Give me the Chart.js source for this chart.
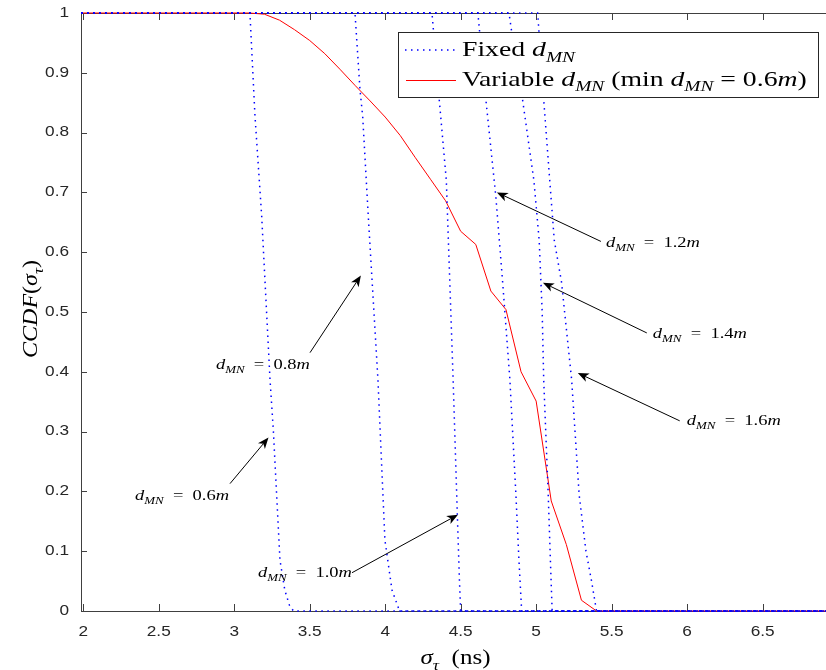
<!DOCTYPE html>
<html>
<head>
<meta charset="utf-8">
<script src="https://cdn.jsdelivr.net/npm/chart.js@4.4.0/dist/chart.umd.min.js"></script>
<style>
  html, body { margin: 0; padding: 0; background: #fff; }
</style>
</head>
<body>
<canvas id="ccdf" width="826" height="670"></canvas>
<script>
/* ── Data ── */
const X_MIN = 1.985, X_MAX = 6.92;
const X_TICKS = [2, 2.5, 3, 3.5, 4, 4.5, 5, 5.5, 6, 6.5];
const Y_TICKS = [0, 0.1, 0.2, 0.3, 0.4, 0.5, 0.6, 0.7, 0.8, 0.9, 1];

// variable d_MN (min 0.6m)
const VAR_X = [1.985, 3.1, 3.2, 3.3, 3.4, 3.5, 3.6, 3.7, 3.8, 3.9, 4.0, 4.1, 4.2, 4.3, 4.4, 4.5, 4.6, 4.7, 4.8, 4.9, 5.0, 5.1, 5.2, 5.3, 5.4, 6.92];
const VAR_Y = [1, 1, 0.998, 0.988, 0.972, 0.954, 0.932, 0.906, 0.879, 0.853, 0.826, 0.795, 0.758, 0.722, 0.686, 0.635, 0.613, 0.535, 0.504, 0.400, 0.351, 0.184, 0.111, 0.018, 0, 0];

// fixed d_MN curves
const FIX_06_X = [3.104, 3.137, 3.182, 3.237, 3.259, 3.303, 3.335, 3.365, 3.392];
const FIX_06_Y = [1, 0.830, 0.660, 0.387, 0.303, 0.085, 0.035, 0.010, 0];
const FIX_08_X = [3.800, 3.833, 3.851, 3.888, 3.952, 3.998, 4.045, 4.095];
const FIX_08_Y = [1, 0.872, 0.827, 0.660, 0.387, 0.119, 0.035, 0];
const FIX_10_X = [4.310, 4.358, 4.405, 4.450, 4.478, 4.492, 4.500];
const FIX_10_Y = [1, 0.855, 0.720, 0.387, 0.160, 0.050, 0];
const FIX_12_X = [4.614, 4.667, 4.733, 4.778, 4.826, 4.866, 4.886, 4.904];
const FIX_12_Y = [1, 0.855, 0.693, 0.550, 0.387, 0.194, 0.085, 0];
const FIX_14_X = [4.820, 4.860, 4.910, 4.985, 5.020, 5.040, 5.050, 5.080, 5.095, 5.106];
const FIX_14_Y = [1, 0.930, 0.855, 0.720, 0.620, 0.500, 0.387, 0.194, 0.080, 0];
const FIX_16_X = [5.010, 5.050, 5.090, 5.120, 5.168, 5.235, 5.285, 5.330, 5.367, 5.400];
const FIX_16_Y = [1, 0.855, 0.720, 0.620, 0.550, 0.387, 0.194, 0.100, 0.050, 0];

const FIXED = [
  [FIX_06_X, FIX_06_Y], [FIX_08_X, FIX_08_Y], [FIX_10_X, FIX_10_Y],
  [FIX_12_X, FIX_12_Y], [FIX_14_X, FIX_14_Y], [FIX_16_X, FIX_16_Y]
];

// annotation labels: d_MN value, text anchor (left/baseline), arrow tail, arrow head (data units)
const ANN_LABEL = ['0.6', '0.8', '1.0', '1.2', '1.4', '1.6'];
const ANN_TEXT = [[2.343, 0.186], [2.879, 0.405], [3.157, 0.057], [5.462, 0.608], [5.773, 0.457], [5.998, 0.311]];
const ANN_TAIL = [[2.972, 0.213], [3.502, 0.432], [3.780, 0.064], [5.429, 0.618], [5.733, 0.465], [5.951, 0.318]];
const ANN_HEAD = [[3.227, 0.290], [3.839, 0.561], [4.482, 0.161], [4.740, 0.700], [5.045, 0.549], [5.276, 0.398]];

/* ── Text helpers ── */
const SERIF = '"Liberation Serif", "Times New Roman", serif';
const SANS = '"Liberation Sans", Arial, sans-serif';
const BLUE = '#0000ff', RED = '#ff0000', AXIS = '#404040';

function fontFor(kind, size) {
  if (kind === 'r') return size + 'px ' + SERIF;
  if (kind === 'i') return 'italic ' + size + 'px ' + SERIF;
  return 'italic ' + (size * 0.7).toFixed(1) + 'px ' + SERIF;
}
function richWidth(ctx, parts, size) {
  let w = 0;
  for (const [t, k] of parts) { ctx.font = fontFor(k, size); w += ctx.measureText(t).width; }
  return w;
}
// draws mixed roman / italic / subscript text, stretched horizontally by sx
function drawRich(ctx, parts, x, y, size, sx, align) {
  const w = richWidth(ctx, parts, size) * sx;
  ctx.save();
  ctx.translate(align === 'center' ? x - w / 2 : x, y);
  ctx.scale(sx, 1);
  ctx.textAlign = 'left'; ctx.textBaseline = 'alphabetic';
  let cx = 0;
  for (const [t, k] of parts) {
    ctx.font = fontFor(k, size);
    ctx.fillText(t, cx, k === 's' ? size * 0.28 : 0);
    cx += ctx.measureText(t).width;
  }
  ctx.restore();
  return w;
}
function drawSans(ctx, txt, x, y, size, sx, align) {
  ctx.save();
  ctx.font = size + 'px ' + SANS;
  const w = ctx.measureText(txt).width * sx;
  let x0 = x;
  if (align === 'center') x0 = x - w / 2;
  else if (align === 'right') x0 = x - w;
  ctx.translate(x0, y); ctx.scale(sx, 1);
  ctx.textAlign = 'left'; ctx.textBaseline = 'middle';
  ctx.fillText(txt, 0, 0);
  ctx.restore();
}
function arrow(ctx, x1, y1, x2, y2) {
  const a = Math.atan2(y2 - y1, x2 - x1);
  const L = 11, W = 4.5, B = 8;
  ctx.beginPath();
  ctx.moveTo(x1, y1);
  ctx.lineTo(x2 - Math.cos(a) * B, y2 - Math.sin(a) * B);
  ctx.stroke();
  ctx.save();
  ctx.translate(x2, y2); ctx.rotate(a);
  ctx.beginPath();
  ctx.moveTo(0, 0); ctx.lineTo(-L, -W); ctx.lineTo(-B, 0); ctx.lineTo(-L, W);
  ctx.closePath(); ctx.fill();
  ctx.restore();
}

const DMN = [['d', 'i'], ['MN', 's']];

/* ── Axes box, ticks, labels (MATLAB style, inward ticks) ── */
const axesPlugin = {
  id: 'matlabAxes',
  beforeDatasetsDraw(chart) {
    const { ctx, chartArea: ca, scales: { x, y } } = chart;
    ctx.save();
    ctx.strokeStyle = AXIS; ctx.lineWidth = 1;
    ctx.beginPath();
    ctx.moveTo(ca.left + 0.5, ca.top); ctx.lineTo(ca.left + 0.5, ca.bottom);
    ctx.moveTo(ca.left, ca.bottom + 0.5); ctx.lineTo(ca.right, ca.bottom + 0.5);
    ctx.moveTo(ca.left, ca.top + 0.5); ctx.lineTo(ca.right, ca.top + 0.5);
    for (const t of x.ticks) {
      const px = Math.round(x.getPixelForValue(t.value)) + 0.5;
      ctx.moveTo(px, ca.bottom); ctx.lineTo(px, ca.bottom - 7);
      ctx.moveTo(px, ca.top); ctx.lineTo(px, ca.top + 7);
    }
    for (const t of y.ticks) {
      const py = Math.round(y.getPixelForValue(t.value)) + 0.5;
      ctx.moveTo(ca.left, py); ctx.lineTo(ca.left + 6, py);
    }
    ctx.stroke();

    ctx.fillStyle = '#262626';
    for (const t of x.ticks) drawSans(ctx, String(t.value), x.getPixelForValue(t.value), ca.bottom + 21, 14, 1.23, 'center');
    for (const t of y.ticks) drawSans(ctx, String(t.value), ca.left - 12, y.getPixelForValue(t.value), 14, 1.23, 'right');

    ctx.fillStyle = '#000';
    drawRich(ctx, [['σ', 'i'], ['τ', 's'], ['  (ns)', 'r']], (ca.left + ca.right) / 2 + 2, ca.bottom + 53, 20, 1.25, 'center');
    ctx.save();
    ctx.translate(37, (ca.top + ca.bottom) / 2 - 3);
    ctx.rotate(-Math.PI / 2);
    drawRich(ctx, [['CCDF', 'i'], ['(', 'r'], ['σ', 'i'], ['τ', 's'], [')', 'r']], 0, 0, 20, 1.2, 'center');
    ctx.restore();
    ctx.restore();
  },
  afterDatasetsDraw(chart) {
    const { ctx, scales: { x, y } } = chart;
    ctx.save();
    // annotations
    ctx.strokeStyle = '#000'; ctx.fillStyle = '#000'; ctx.lineWidth = 1;
    ANN_LABEL.forEach((lab, i) => {
      arrow(ctx,
        x.getPixelForValue(ANN_TAIL[i][0]), y.getPixelForValue(ANN_TAIL[i][1]),
        x.getPixelForValue(ANN_HEAD[i][0]), y.getPixelForValue(ANN_HEAD[i][1]));
      drawRich(ctx, [...DMN, ['\u2002=\u2002' + lab, 'r'], ['m', 'i']],
        x.getPixelForValue(ANN_TEXT[i][0]), y.getPixelForValue(ANN_TEXT[i][1]), 14, 1.32, 'left');
    });

    // legend box
    const bx = 398.5, by = 32.5, bw = 420, bh = 65;
    ctx.fillStyle = '#fff';
    ctx.fillRect(bx, by, bw, bh);
    ctx.strokeStyle = '#262626';
    ctx.strokeRect(bx, by, bw, bh);

    ctx.lineWidth = 1.5;
    ctx.strokeStyle = BLUE; ctx.setLineDash([1.5, 4.5]);
    ctx.beginPath(); ctx.moveTo(405, 50); ctx.lineTo(457, 50); ctx.stroke();
    ctx.setLineDash([]);
    ctx.lineWidth = 1;
    ctx.strokeStyle = RED;
    ctx.beginPath(); ctx.moveTo(406, 80.5); ctx.lineTo(456, 80.5); ctx.stroke();

    ctx.fillStyle = '#000';
    drawRich(ctx, [['Fixed ', 'r'], ...DMN], 462, 56, 21, 1.32, 'left');
    drawRich(ctx, [['Variable ', 'r'], ...DMN, [' (min ', 'r'], ...DMN, [' = 0.6', 'r'], ['m', 'i'], [')', 'r']],
      462, 85.5, 21, 1.32, 'left');
    ctx.restore();
  }
};

/* ── Datasets ── */
const toPts = (xs, ys) => xs.map((v, i) => ({ x: v, y: ys[i] }));

const datasets = [{
  label: 'Variable d_MN (min d_MN = 0.6m)',
  data: toPts(VAR_X, VAR_Y),
  borderColor: RED, borderWidth: 1, order: 2
}];
FIXED.forEach(([xs, ys], i) => {
  datasets.push({
    label: i === 0 ? 'Fixed d_MN' : '',
    data: toPts([X_MIN, ...xs, X_MAX], [1, ...ys, 0]),
    borderColor: BLUE, borderWidth: 1.5, borderDash: [1.5, 4.5], order: 1
  });
});
datasets.forEach(d => Object.assign(d, { showLine: true, pointRadius: 0, fill: false, tension: 0, clip: 3 }));

new Chart(document.getElementById('ccdf'), {
  type: 'scatter',
  data: { datasets },
  options: {
    responsive: false, animation: false, devicePixelRatio: 1,
    layout: { padding: { left: 81, right: 0, top: 13, bottom: 59 } },
    plugins: { legend: { display: false }, tooltip: { enabled: false } },
    scales: {
      x: {
        type: 'linear', min: X_MIN, max: X_MAX,
        afterBuildTicks: s => { s.ticks = X_TICKS.map(v => ({ value: v })); },
        ticks: { display: false }, grid: { display: false, drawTicks: false }, border: { display: false }
      },
      y: {
        type: 'linear', min: 0, max: 1,
        afterBuildTicks: s => { s.ticks = Y_TICKS.map(v => ({ value: v })); },
        ticks: { display: false }, grid: { display: false, drawTicks: false }, border: { display: false }
      }
    }
  },
  plugins: [axesPlugin]
});
</script>
</body>
</html>
